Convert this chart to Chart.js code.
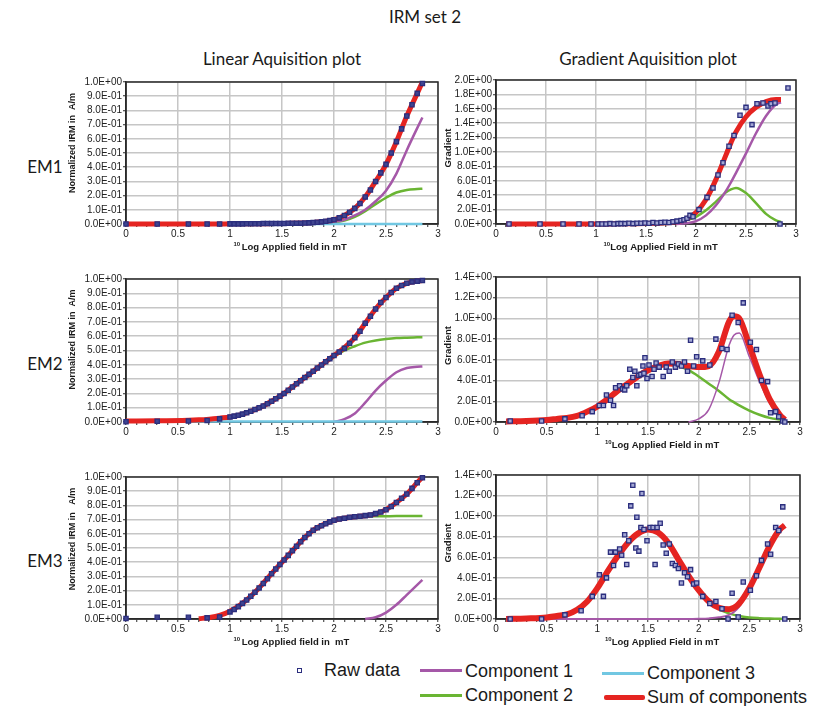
<!DOCTYPE html>
<html>
<head>
<meta charset="utf-8">
<script src="https://cdn.jsdelivr.net/npm/chart.js@4.4.0/dist/chart.umd.min.js"></script>
<style>
  body { margin: 0; width: 813px; height: 706px; background: #fff; position: relative; overflow: hidden;
         font-family: "Liberation Sans", Arial, sans-serif; color: #1a1a1a; }
  canvas { position: absolute; }
  .hd { position: absolute; font-family: Lato, "Liberation Sans", sans-serif; font-size: 17px; white-space: nowrap;
        transform: translate(-50%, -50%); }
  .lg { position: absolute; font-size: 18px; line-height: 18px; white-space: nowrap; }
  .ln { position: absolute; }
</style>
</head>
<body>

<div class="hd" style="left:425px;top:16px">IRM set 2</div>
<div class="hd" style="left:282px;top:58px">Linear Aquisition plot</div>
<div class="hd" style="left:648px;top:58px">Gradient Aquisition plot</div>
<div class="hd" style="left:45px;top:166px">EM1</div>
<div class="hd" style="left:45px;top:363px">EM2</div>
<div class="hd" style="left:45px;top:560px">EM3</div>

<canvas id="em1Lin"></canvas>
<canvas id="em2Lin"></canvas>
<canvas id="em3Lin"></canvas>
<canvas id="em1Grad"></canvas>
<canvas id="em2Grad"></canvas>
<canvas id="em3Grad"></canvas>

<!-- legend -->
<div class="ln" style="left:297px;top:668px;width:3px;height:3px;border:1.3px solid #2b2e7e;background:#fff"></div>
<div class="lg" style="left:324px;top:661px">Raw data</div>
<div class="ln" style="left:420px;top:669px;width:42px;height:3px;background:#a558a8"></div>
<div class="lg" style="left:465px;top:662px">Component 1</div>
<div class="ln" style="left:602px;top:672px;width:42px;height:3px;background:#71c7e2"></div>
<div class="lg" style="left:647px;top:664px">Component 3</div>
<div class="ln" style="left:420px;top:694px;width:42px;height:3px;background:#6ab533"></div>
<div class="lg" style="left:465px;top:686px">Component 2</div>
<div class="ln" style="left:604px;top:695px;width:41px;height:5px;background:#e52421;border-radius:2px"></div>
<div class="lg" style="left:647px;top:688px">Sum of components</div>

<script>
// field steps (10log mT) for the acquisition curves
const linCurveX = [0, 0.3, 0.6, 0.7, 0.8, 0.9, 1.0, 1.1, 1.2, 1.3, 1.4, 1.5, 1.6, 1.7, 1.8, 1.9, 2.0, 2.1, 2.2, 2.3, 2.4, 2.5, 2.6, 2.7, 2.8, 2.85];
const gradCurveX = [0.1, 0.3, 0.5, 0.6, 0.7, 0.8, 0.9, 1.0, 1.1, 1.2, 1.3, 1.4, 1.5, 1.6, 1.7, 1.8, 1.9, 2.0, 2.1, 2.2, 2.3, 2.35, 2.4, 2.5, 2.6, 2.7, 2.8, 2.85];
const linRawX = [0, 0.3, 0.6, 0.78, 0.9, 1.0, 1.04, 1.08, 1.12, 1.16, 1.2, 1.24, 1.28, 1.32, 1.36, 1.4, 1.44, 1.48, 1.52, 1.56, 1.6, 1.64, 1.68, 1.72, 1.76, 1.8, 1.84, 1.88, 1.92, 1.96, 2.0, 2.05, 2.1, 2.15, 2.2, 2.25, 2.3, 2.35, 2.4, 2.45, 2.5, 2.55, 2.6, 2.65, 2.7, 2.75, 2.8, 2.85];

const xMajorTicks = [0, 0.5, 1, 1.5, 2, 2.5, 3];

// EM1
const em1LinRaw = [0, 0, 0, 0, 0, 0.001, 0.001, 0.001, 0.001, 0.002, 0.002, 0.002, 0.002, 0.003, 0.003, 0.003, 0.003, 0.004, 0.004, 0.005, 0.005, 0.006, 0.006, 0.007, 0.008, 0.01, 0.012, 0.015, 0.019, 0.024, 0.03, 0.043, 0.06, 0.083, 0.11, 0.145, 0.19, 0.24, 0.30, 0.36, 0.42, 0.50, 0.58, 0.67, 0.76, 0.84, 0.92, 0.99];
const em1LinSum = [0, 0, 0, 0, 0, 0, 0.001, 0.001, 0.002, 0.002, 0.003, 0.004, 0.005, 0.007, 0.01, 0.017, 0.03, 0.06, 0.11, 0.19, 0.30, 0.42, 0.58, 0.76, 0.92, 1.0];
const em1LinC1 = [null, null, null, null, null, null, null, null, null, null, null, null, null, null, 0, 0.005, 0.015, 0.03, 0.06, 0.10, 0.16, 0.235, 0.355, 0.52, 0.675, 0.75];
const em1LinC2 = [null, null, null, null, null, null, null, null, null, null, null, null, 0, 0.002, 0.004, 0.007, 0.012, 0.025, 0.05, 0.09, 0.14, 0.185, 0.222, 0.24, 0.246, 0.248];
const em1LinC3 = [0, 0, 0, 0, 0, 0, 0, 0, 0, 0, 0, 0, 0, 0, 0, 0, 0, 0, 0, 0, 0, 0, 0, 0, 0, 0];

const em1GradRawX = [0.13, 0.44, 0.67, 0.83, 0.95, 1.02, 1.06, 1.1, 1.14, 1.18, 1.22, 1.25, 1.29, 1.33, 1.37, 1.41, 1.45, 1.49, 1.53, 1.57, 1.61, 1.65, 1.69, 1.73, 1.77, 1.81, 1.85, 1.88, 1.91, 1.94, 1.97, 2.03, 2.11, 2.17, 2.22, 2.27, 2.33, 2.38, 2.44, 2.5, 2.56, 2.61, 2.67, 2.72, 2.75, 2.79, 2.84, 2.92];
const em1GradRaw = [0, 0, 0, 0, 0, 0, 0, 0, 0.005, 0, 0.005, 0.005, 0.005, 0.01, 0.005, 0.01, 0.01, 0.015, 0.01, 0.02, 0.015, 0.02, 0.025, 0.02, 0.03, 0.04, 0.05, 0.06, 0.08, 0.12, 0.1, 0.2, 0.37, 0.5, 0.68, 0.85, 1.08, 1.23, 1.51, 1.62, 1.38, 1.67, 1.68, 1.64, 1.67, 1.68, 0, 1.89];
const em1GradSum = [0, 0, 0, 0, 0, 0, 0, 0, 0.001, 0.002, 0.003, 0.004, 0.006, 0.01, 0.016, 0.03, 0.07, 0.16, 0.34, 0.62, 0.96, 1.13, 1.28, 1.49, 1.62, 1.70, 1.73, 1.73];
const em1GradC1 = [null, null, null, null, null, null, null, null, null, null, null, null, null, null, null, 0, 0.01, 0.04, 0.12, 0.26, 0.46, 0.58, 0.71, 0.98, 1.26, 1.50, 1.66, 1.69];
const em1GradC2 = [null, null, null, null, null, null, null, null, null, null, null, null, null, 0, 0.005, 0.02, 0.05, 0.10, 0.19, 0.31, 0.44, 0.48, 0.50, 0.43, 0.29, 0.14, 0.05, 0.03];

// EM2
const em2LinRaw = [0.002, 0.005, 0.007, 0.01, 0.022, 0.035, 0.041, 0.047, 0.055, 0.064, 0.075, 0.087, 0.099, 0.112, 0.128, 0.145, 0.163, 0.181, 0.2, 0.222, 0.245, 0.267, 0.289, 0.311, 0.333, 0.355, 0.377, 0.399, 0.421, 0.443, 0.465, 0.49, 0.515, 0.55, 0.59, 0.635, 0.69, 0.74, 0.79, 0.835, 0.87, 0.905, 0.935, 0.955, 0.97, 0.98, 0.985, 0.99];
const em2LinSum = [0.007, 0.008, 0.012, 0.015, 0.02, 0.027, 0.035, 0.05, 0.075, 0.105, 0.145, 0.19, 0.245, 0.30, 0.355, 0.41, 0.465, 0.52, 0.59, 0.69, 0.79, 0.87, 0.935, 0.97, 0.985, 0.99];
const em2LinC1 = [null, null, null, null, null, null, null, null, null, null, null, null, null, null, null, null, 0, 0.02, 0.06, 0.135, 0.22, 0.29, 0.348, 0.378, 0.386, 0.388];
const em2LinC2 = [0.004, 0.005, 0.009, 0.012, 0.017, 0.024, 0.032, 0.047, 0.072, 0.102, 0.142, 0.187, 0.242, 0.297, 0.351, 0.404, 0.455, 0.50, 0.53, 0.555, 0.57, 0.58, 0.587, 0.59, 0.592, 0.593];
const em2LinC3 = [0.003, 0.003, 0.003, 0.003, 0.003, 0.003, 0.003, 0.003, 0.003, 0.003, 0.003, 0.003, 0.003, 0.003, 0.003, 0.003, 0.003, 0.003, 0.003, 0.003, 0.003, 0.003, 0.003, 0.003, 0.003, 0.003];

const em2GradRawX = [0.14, 0.45, 0.68, 0.85, 0.95, 1.02, 1.06, 1.09, 1.13, 1.16, 1.18, 1.22, 1.25, 1.27, 1.29, 1.32, 1.35, 1.37, 1.39, 1.41, 1.43, 1.45, 1.46, 1.47, 1.49, 1.51, 1.54, 1.56, 1.58, 1.61, 1.65, 1.68, 1.71, 1.74, 1.77, 1.80, 1.83, 1.86, 1.89, 1.92, 1.95, 1.98, 2.04, 2.11, 2.17, 2.23, 2.28, 2.33, 2.39, 2.44, 2.51, 2.57, 2.62, 2.68, 2.71, 2.76, 2.79, 2.83, 2.85];
const em2GradRaw = [0.01, 0.01, 0.03, 0.06, 0.10, 0.16, 0.16, 0.26, 0.21, 0.16, 0.33, 0.35, 0.32, 0.31, 0.35, 0.51, 0.43, 0.49, 0.35, 0.45, 0.46, 0.54, 0.47, 0.62, 0.42, 0.55, 0.44, 0.51, 0.57, 0.53, 0.44, 0.53, 0.49, 0.58, 0.53, 0.56, 0.54, 0.58, 0.49, 0.79, 0.54, 0.63, 0.59, 0.55, 0.80, 0.71, 0.70, 1.03, 0.96, 1.15, 0.77, 0.70, 0.40, 0.39, 0.09, 0.10, 0.05, 0.01, 0];
const em2GradSum = [0.005, 0.01, 0.02, 0.03, 0.04, 0.06, 0.10, 0.15, 0.22, 0.30, 0.37, 0.44, 0.50, 0.54, 0.565, 0.56, 0.54, 0.53, 0.54, 0.68, 0.97, 1.02, 1.0, 0.74, 0.46, 0.22, 0.07, 0.02];
const em2GradC1 = [null, null, null, null, null, null, null, null, null, null, null, null, null, null, null, null, 0, 0.03, 0.12, 0.38, 0.74, 0.84, 0.86, 0.63, 0.39, 0.18, 0.04, 0];
const em2GradC2 = [0.005, 0.01, 0.02, 0.03, 0.04, 0.06, 0.10, 0.15, 0.22, 0.30, 0.37, 0.44, 0.50, 0.54, 0.56, 0.54, 0.50, 0.44, 0.37, 0.30, 0.22, 0.19, 0.16, 0.11, 0.07, 0.04, 0.025, 0.02];

// EM3
const em3LinRaw = [0.004, 0.012, 0.012, 0.008, 0.014, 0.05, 0.067, 0.087, 0.11, 0.134, 0.16, 0.188, 0.218, 0.25, 0.284, 0.318, 0.352, 0.384, 0.416, 0.448, 0.48, 0.512, 0.544, 0.574, 0.601, 0.625, 0.642, 0.657, 0.671, 0.684, 0.695, 0.704, 0.71, 0.716, 0.72, 0.724, 0.728, 0.733, 0.742, 0.753, 0.77, 0.792, 0.82, 0.85, 0.88, 0.92, 0.96, 0.995];
const em3LinSum = [null, null, null, 0.002, 0.01, 0.025, 0.055, 0.10, 0.16, 0.235, 0.32, 0.40, 0.48, 0.56, 0.625, 0.665, 0.695, 0.71, 0.72, 0.727, 0.74, 0.77, 0.82, 0.88, 0.96, 1.0];
const em3LinC1 = [null, null, null, null, null, null, null, null, null, null, null, null, null, null, null, null, null, null, null, 0, 0.012, 0.045, 0.10, 0.17, 0.24, 0.275];
const em3LinC2 = [null, null, null, 0.002, 0.01, 0.025, 0.055, 0.10, 0.16, 0.235, 0.32, 0.40, 0.48, 0.56, 0.625, 0.665, 0.695, 0.708, 0.716, 0.721, 0.723, 0.724, 0.725, 0.725, 0.725, 0.725];

const em3GradRawX = [0.14, 0.45, 0.68, 0.84, 0.95, 1.02, 1.06, 1.09, 1.13, 1.16, 1.18, 1.22, 1.24, 1.27, 1.29, 1.31, 1.33, 1.35, 1.38, 1.39, 1.41, 1.43, 1.44, 1.46, 1.49, 1.52, 1.55, 1.57, 1.59, 1.62, 1.65, 1.68, 1.71, 1.74, 1.77, 1.80, 1.83, 1.86, 1.89, 1.92, 1.95, 1.98, 2.04, 2.11, 2.17, 2.23, 2.29, 2.33, 2.39, 2.44, 2.51, 2.57, 2.62, 2.68, 2.71, 2.76, 2.79, 2.83, 2.85];
const em3GradRaw = [0, 0, 0.04, 0.08, 0.22, 0.43, 0.22, 0.40, 0.65, 0.52, 0.65, 0.68, 0.62, 0.82, 0.53, 0.76, 1.10, 1.30, 0.69, 0.99, 0.66, 0.89, 1.22, 0.87, 0.76, 0.89, 0.89, 0.53, 0.89, 0.93, 0.72, 0.64, 0.73, 0.54, 0.52, 0.49, 0.35, 0.45, 0.41, 0.48, 0.34, 0.35, 0.22, 0.15, 0.17, 0.10, 0, 0.25, 0.02, 0.36, 0.28, 0.42, 0.57, 0.73, 0.63, 0.89, 0.86, 1.09, 0];
const em3GradSum = [0, 0.005, 0.015, 0.03, 0.045, 0.09, 0.17, 0.30, 0.46, 0.61, 0.74, 0.83, 0.87, 0.84, 0.74, 0.58, 0.42, 0.28, 0.17, 0.11, 0.095, 0.11, 0.15, 0.30, 0.50, 0.71, 0.87, 0.91];
const em3GradC1 = [0, 0, 0, 0, 0, 0, 0, 0, 0, 0, 0, 0, 0, 0, 0, 0, 0, 0.002, 0.006, 0.016, 0.04, 0.07, 0.12, 0.29, 0.49, 0.70, 0.87, 0.91];
const em3GradC2 = [0, 0.005, 0.015, 0.03, 0.045, 0.09, 0.17, 0.30, 0.46, 0.61, 0.74, 0.83, 0.87, 0.84, 0.74, 0.58, 0.42, 0.28, 0.165, 0.095, 0.055, 0.04, 0.03, 0.015, 0.008, 0.004, 0.002, 0];

// colours
const RAW_EDGE = '#2b2e7e';
const C1_COL = '#a558a8';
const C2_COL = '#6ab533';
const C3_COL = '#71c7e2';
const SUM_COL = '#e52421';
const GRID_COL = '#c6c6c6';
const AXIS_COL = '#2a2a2a';
const FONT = '"Liberation Sans", Arial, sans-serif';

const PAD_T = 8, PAD_R = 8, X_H = 30;

function pts(xs, ys) {
	return xs.map((x, i) => ({ x: x, y: ys[i] })).filter(p => p.y !== null && p.y !== undefined);
}

function sci(v) {
	const s = Number(v).toExponential(1);
	const parts = s.split('e');
	const e = parseInt(parts[1], 10);
	return parts[0] + 'E' + (e < 0 ? '-' : '+') + String(Math.abs(e)).padStart(2, '0');
}

function isMajor(v) {
	return xMajorTicks.some(t => Math.abs(t - v) < 1e-6);
}

// frame round the plot area, axis titles with the superscript 10
const axisText = {
	id: 'axisText',
	beforeDatasetsDraw(chart) {
		const { ctx, chartArea: a } = chart;
		ctx.save();
		ctx.strokeStyle = AXIS_COL;
		ctx.lineWidth = 1.5;
		ctx.strokeRect(a.left, a.top, a.right - a.left, a.bottom - a.top);
		ctx.restore();
	},
	afterDraw(chart, args, o) {
		const { ctx, chartArea: a } = chart;
		ctx.save();
		ctx.fillStyle = '#1a1a1a';
		ctx.translate(o.yX, (a.top + a.bottom) / 2 + o.yShift);
		ctx.rotate(-Math.PI / 2);
		ctx.font = 'bold ' + o.ySize + 'px ' + FONT;
		ctx.textAlign = 'center';
		ctx.textBaseline = 'middle';
		ctx.fillText(o.yText, 0, 0);
		ctx.restore();

		if (!o.xText) return;
		ctx.save();
		ctx.fillStyle = '#1a1a1a';
		ctx.textAlign = 'left';
		ctx.textBaseline = 'alphabetic';
		ctx.font = 'bold 6px ' + FONT;
		const supW = ctx.measureText('10').width;
		const base = a.bottom + 25.5;
		ctx.fillText('10', o.xStart, base - 4);
		ctx.font = 'bold 9.5px ' + FONT;
		ctx.fillText(o.xText, o.xStart + supW + o.xGap, base);
		ctx.restore();
	}
};

function plot(id, geo, yMax, yStep, titles, datasets) {
	const cv = document.getElementById(id);
	const W = geo.yW + (geo.right - geo.left) + PAD_R;
	const H = PAD_T + (geo.bottom - geo.top) + X_H;
	const cl = geo.left - geo.yW;
	cv.width = W;
	cv.height = H;
	cv.style.left = cl + 'px';
	cv.style.top = (geo.top - PAD_T) + 'px';
	cv.style.width = W + 'px';
	cv.style.height = H + 'px';

	new Chart(cv, {
		type: 'scatter',
		data: { datasets: datasets },
		options: {
			responsive: false,
			animation: false,
			devicePixelRatio: 1,
			layout: { padding: { top: PAD_T, right: PAD_R, left: 0, bottom: 0 } },
			plugins: {
				legend: { display: false },
				tooltip: { enabled: false },
				axisText: {
					yText: titles.y,
					ySize: titles.ySize,
					yX: titles.yX - cl,
					yShift: titles.yShift,
					xText: titles.x,
					xStart: titles.xStart - cl,
					xGap: titles.xGap
				}
			},
			scales: {
				x: {
					type: 'linear',
					min: 0,
					max: 3,
					afterFit: s => { s.height = X_H; },
					ticks: {
						stepSize: 0.1,
						autoSkip: false,
						maxRotation: 0,
						padding: 1,
						color: '#222',
						font: { family: FONT, size: 10 },
						callback: v => isMajor(v) ? String(Math.round(v * 2) / 2) : ''
					},
					grid: {
						color: c => (c.tick && isMajor(c.tick.value)) ? GRID_COL : 'rgba(0,0,0,0)',
						lineWidth: 1.5,
						tickLength: 3,
						tickColor: AXIS_COL,
						tickWidth: 1
					},
					border: { color: AXIS_COL, width: 1.5 }
				},
				y: {
					min: 0,
					max: yMax,
					afterFit: s => { s.width = geo.yW; },
					ticks: {
						stepSize: yStep,
						autoSkip: false,
						padding: 1,
						color: '#222',
						font: { family: FONT, size: 10 },
						callback: v => sci(v)
					},
					grid: {
						color: GRID_COL,
						lineWidth: 1.5,
						tickLength: 3,
						tickColor: AXIS_COL,
						tickWidth: 1
					},
					border: { color: AXIS_COL, width: 1.5 }
				}
			}
		},
		plugins: [axisText]
	});
}

function rawSet(xs, ys, fill) {
	return {
		label: 'Raw data',
		data: pts(xs, ys),
		showLine: false,
		pointStyle: 'rect',
		pointRadius: 3,
		borderWidth: 1.3,
		borderColor: RAW_EDGE,
		backgroundColor: fill,
		clip: 8,
		order: 0
	};
}

function lineSet(label, xs, ys, colour, width, order) {
	return {
		label: label,
		data: pts(xs, ys),
		showLine: true,
		pointRadius: 0,
		borderColor: colour,
		backgroundColor: colour,
		borderWidth: width,
		cubicInterpolationMode: 'monotone',
		clip: 8,
		order: order
	};
}

const GEO = {
	em1Lin: { left: 126, right: 438, top: 82, bottom: 224, yW: 64 },
	em2Lin: { left: 126, right: 438, top: 279, bottom: 422, yW: 64 },
	em3Lin: { left: 126, right: 438, top: 477, bottom: 619, yW: 64 },
	em1Grad: { left: 496, right: 796, top: 80, bottom: 224, yW: 56 },
	em2Grad: { left: 496, right: 800, top: 277, bottom: 422, yW: 56 },
	em3Grad: { left: 496, right: 800, top: 475, bottom: 619, yW: 56 }
};

const LIN_FILL = '#3f4490';
const GRAD_FILL = '#a3a7d4';

plot('em1Lin', GEO.em1Lin, 1, 0.1,
	{ y: 'Normalized IRM in  A/m', ySize: 9, yX: 73, yShift: -10, x: 'Log Applied field in mT', xStart: 233.5, xGap: 1.5 },
	[
		rawSet(linRawX, em1LinRaw, LIN_FILL),
		lineSet('Sum of components', linCurveX, em1LinSum, SUM_COL, 5, 1),
		lineSet('Component 3', linCurveX, em1LinC3, C3_COL, 2.5, 2),
		lineSet('Component 1', linCurveX, em1LinC1, C1_COL, 2.5, 3),
		lineSet('Component 2', linCurveX, em1LinC2, C2_COL, 2.5, 4)
	]);

plot('em2Lin', GEO.em2Lin, 1, 0.1,
	{ y: 'Normalized IRM in  A/m', ySize: 9, yX: 73, yShift: -11, x: '', xStart: 0, xGap: 0 },
	[
		rawSet(linRawX, em2LinRaw, LIN_FILL),
		lineSet('Sum of components', linCurveX, em2LinSum, SUM_COL, 5, 1),
		lineSet('Component 3', linCurveX, em2LinC3, C3_COL, 2.5, 2),
		lineSet('Component 1', linCurveX, em2LinC1, C1_COL, 2.5, 3),
		lineSet('Component 2', linCurveX, em2LinC2, C2_COL, 2.5, 4)
	]);

plot('em3Lin', GEO.em3Lin, 1, 0.1,
	{ y: 'Normalized IRM in   A/m', ySize: 9, yX: 73, yShift: -9, x: 'Log Applied field in  mT', xStart: 233.5, xGap: 1.5 },
	[
		rawSet(linRawX, em3LinRaw, LIN_FILL),
		lineSet('Sum of components', linCurveX, em3LinSum, SUM_COL, 5, 1),
		lineSet('Component 1', linCurveX, em3LinC1, C1_COL, 2.5, 3),
		lineSet('Component 2', linCurveX, em3LinC2, C2_COL, 2.5, 4)
	]);

plot('em1Grad', GEO.em1Grad, 2, 0.2,
	{ y: 'Gradient', ySize: 9.5, yX: 448, yShift: -4, x: 'Log Applied Field in mT', xStart: 603.5, xGap: 0 },
	[
		rawSet(em1GradRawX, em1GradRaw, GRAD_FILL),
		lineSet('Sum of components', gradCurveX, em1GradSum, SUM_COL, 5, 1),
		lineSet('Component 1', gradCurveX, em1GradC1, C1_COL, 2.5, 3),
		lineSet('Component 2', gradCurveX, em1GradC2, C2_COL, 2.5, 4)
	]);

plot('em2Grad', GEO.em2Grad, 1.4, 0.2,
	{ y: 'Gradient', ySize: 9.5, yX: 448, yShift: -4, x: 'Log Applied Field in mT', xStart: 605, xGap: 0 },
	[
		rawSet(em2GradRawX, em2GradRaw, GRAD_FILL),
		lineSet('Sum of components', gradCurveX, em2GradSum, SUM_COL, 6, 1),
		lineSet('Component 1', gradCurveX, em2GradC1, C1_COL, 1.5, 3),
		lineSet('Component 2', gradCurveX, em2GradC2, C2_COL, 2.5, 4)
	]);

plot('em3Grad', GEO.em3Grad, 1.4, 0.2,
	{ y: 'Gradient', ySize: 9.5, yX: 448, yShift: -4, x: 'Log Applied Field in mT', xStart: 605, xGap: 0 },
	[
		rawSet(em3GradRawX, em3GradRaw, GRAD_FILL),
		lineSet('Sum of components', gradCurveX, em3GradSum, SUM_COL, 6, 1),
		lineSet('Component 1', gradCurveX, em3GradC1, C1_COL, 2, 3),
		lineSet('Component 2', gradCurveX, em3GradC2, C2_COL, 2.5, 4)
	]);
</script>
</body>
</html>
